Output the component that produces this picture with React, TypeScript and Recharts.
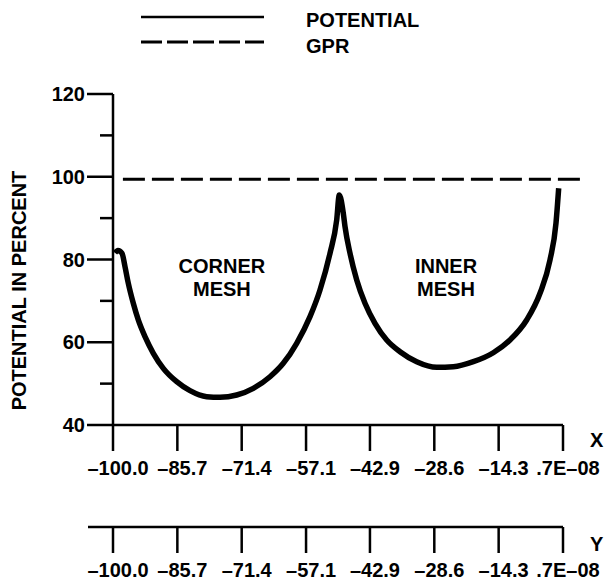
import React from "react";
import { LineChart, Line, XAxis, YAxis, ReferenceLine, ReferenceDot } from "recharts";

// potential along the profile
const PROFILE_X = [
  -99.56, -98.9, -98.0, -97.33, -96.6, -95.49, -94.38, -92.89, -91.04, -88.82, -85.84, -82.89,
  -79.18, -76.22, -72.51, -68.82, -65.11, -62.16, -59.18, -56.22, -54.0, -51.78, -50.29, -49.71,
  -48.82, -48.44, -47.33, -45.84, -44.0, -41.78, -39.18, -36.22, -32.51, -28.07, -24.38, -19.93,
  -15.49, -11.78, -8.07, -5.11, -2.89, -1.56, -0.96,
];
const POTENTIAL = [
  81.6, 82.2, 81.5, 78.26, 74.25, 69.41, 65.38, 61.34, 57.33, 53.7, 50.47, 48.29,
  46.84, 46.69, 47.25, 48.87, 51.67, 54.91, 59.75, 66.18, 72.63, 81.5, 89.55, 95.59,
  91.17, 87.93, 81.5, 75.05, 69.41, 64.58, 60.54, 57.72, 55.3, 53.95, 54.09, 55.3,
  57.47, 60.54, 65.38, 71.83, 79.88, 88.75, 97.21,
];

const GPR_LEVEL = 99.4;
const GPR_FROM = -97.8;
const GPR_TO = 5.3;

const X_TICKS = [-100, -85.7, -71.4, -57.1, -42.9, -28.6, -14.3, 0];
const Y_TICKS = [40, 50, 60, 70, 80, 90, 100, 110, 120];

const MESH_NAMES = [["CORNER", "MESH"], ["INNER", "MESH"]];
const MESH_X = [-75.8, -26.0];
const MESH_Y = [75.2, 75.2];

const data = PROFILE_X.map((x, i) => ({ x, potential: POTENTIAL[i] }));

const FONT = "'Liberation Sans', Arial, Helvetica, sans-serif";
const txt = { fontFamily: FONT, fontSize: 20, fontWeight: 700, fill: "#000" };

const fmtX = (v: number) => (v === 0 ? ".7E\u201308" : "\u2013" + Math.abs(v).toFixed(1));

const XTick = (props: any) => {
  const { x, y, payload, index, lead } = props;
  return (
    <g>
      {lead && index === 0 && <line x1={x - 25} y1={y} x2={x} y2={y} stroke="#000" strokeWidth={2.5} />}
      <line x1={x} y1={y} x2={x} y2={y + 26} stroke="#000" strokeWidth={2.5} />
      <text x={x + 5} y={y + 50} textAnchor="middle" style={txt}>
        {fmtX(payload.value)}
      </text>
    </g>
  );
};

const YTick = (props: any) => {
  const { x, y, payload } = props;
  const major = payload.value % 20 === 0;
  return (
    <g>
      <line x1={x - (major ? 26 : 13)} y1={y} x2={x} y2={y} stroke="#000" strokeWidth={2.5} />
      {major && (
        <text x={x - 28} y={y + 7} textAnchor="end" style={txt}>
          {payload.value}
        </text>
      )}
    </g>
  );
};

const axisTag = (tag: string, dy: number) => (props: any) => {
  const vb = props.viewBox;
  return (
    <text x={vb.x + vb.width + 27} y={vb.y + dy} style={txt}>
      {tag}
    </text>
  );
};

const yTitle = (props: any) => {
  const vb = props.viewBox;
  const cx = 19;
  const cy = vb.y + vb.height / 2 + 31;
  return (
    <text x={cx} y={cy} textAnchor="middle" dominantBaseline="central" transform={`rotate(-90 ${cx} ${cy})`}
      style={txt}>
      POTENTIAL IN PERCENT
    </text>
  );
};

const MeshLabel = (props: any) => {
  const { cx, cy, lines } = props;
  return (
    <text x={cx} y={cy} textAnchor="middle" style={txt}>
      <tspan x={cx} dy={-6}>{lines[0]}</tspan>
      <tspan x={cx} dy={23}>{lines[1]}</tspan>
    </text>
  );
};

export default function App() {
  return (
    <div style={{ position: "absolute", left: 0, top: 0, width: 606, height: 583, background: "#fff" }}>
      {/* legend */}
      <svg width={606} height={70} style={{ position: "absolute", left: 0, top: 0 }}>
        <line x1={141} y1={17} x2={264} y2={17} stroke="#000" strokeWidth={2.5} />
        <line x1={141} y1={42} x2={264} y2={42} stroke="#000" strokeWidth={3} strokeDasharray="21 5" />
        <text x={306} y={27} style={txt}>POTENTIAL</text>
        <text x={306} y={53} style={txt}>GPR</text>
      </svg>
      <div style={{ position: "absolute", left: 0, top: 0 }}>
        <LineChart width={606} height={583} data={data} margin={{ top: 94, right: 43, bottom: 0, left: 0 }}>
          <XAxis
            dataKey="x"
            type="number"
            domain={[-100, 0]}
            ticks={X_TICKS}
            interval={0}
            height={102}
            tickSize={0}
            tickMargin={0}
            tickLine={false}
            axisLine={{ stroke: "#000", strokeWidth: 2.5 }}
            tick={(p: any) => <XTick {...p} />}
            label={axisTag("X", 22)}
          />
          <XAxis
            xAxisId="b"
            dataKey="x"
            type="number"
            domain={[-100, 0]}
            ticks={X_TICKS}
            interval={0}
            height={56}
            tickSize={0}
            tickMargin={0}
            tickLine={false}
            axisLine={{ stroke: "#000", strokeWidth: 2.5 }}
            tick={(p: any) => <XTick {...p} lead />}
            label={axisTag("Y", 24)}
          />
          <YAxis
            type="number"
            domain={[40, 120]}
            ticks={Y_TICKS}
            interval={0}
            width={113}
            tickSize={0}
            tickMargin={0}
            tickLine={false}
            axisLine={{ stroke: "#000", strokeWidth: 2.5 }}
            tick={(p: any) => <YTick {...p} />}
            label={yTitle}
          />
          <ReferenceLine
            segment={[{ x: GPR_FROM, y: GPR_LEVEL }, { x: GPR_TO, y: GPR_LEVEL }]}
            ifOverflow="visible"
            stroke="#000"
            strokeWidth={3}
            strokeDasharray="22 7"
          />
          {MESH_NAMES.map((lines, i) => (
            <ReferenceDot
              key={i}
              x={MESH_X[i]}
              y={MESH_Y[i]}
              ifOverflow="visible"
              shape={(p: any) => <MeshLabel {...p} lines={lines} />}
            />
          ))}
          <Line
            type="monotone"
            dataKey="potential"
            stroke="#000"
            strokeWidth={5.5}
            dot={false}
            isAnimationActive={false}
          />
        </LineChart>
      </div>
    </div>
  );
}
